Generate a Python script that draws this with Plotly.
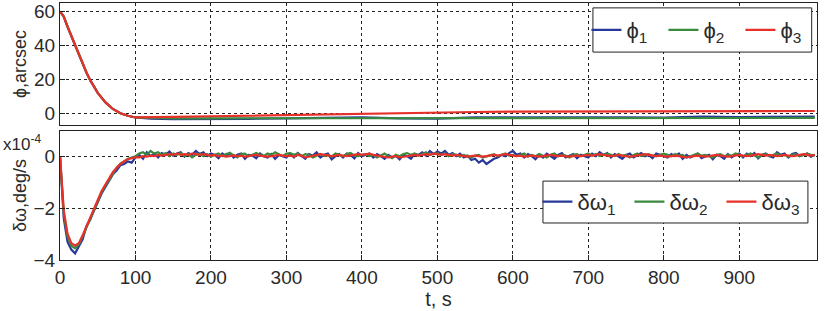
import plotly.graph_objects as go

# ---- data ----
phi_t = [0, 5, 10, 15, 20, 25, 30, 35, 40, 50, 60, 70, 80, 90, 100, 120, 150, 200, 250, 300,
         350, 400, 450, 500, 550, 600, 650, 700, 750, 800, 850, 900, 950, 1000]
phi_early = [60, 57, 51, 45.5, 40, 34.5, 29, 24, 19.5, 12, 6.5, 2.5, 0, -1.5, -2.5]
phi1 = phi_early + [-3.2, -3.5, -3.5, -3.3, -3.0, -2.8, -2.5, -3.0, -3.2, -2.5, -2.4, -2.6, -2.6,
                    -2.4, -2.6, -2.0, -2.3, -2.2, -2.0]
phi2 = phi_early + [-2.8, -3.0, -3.0, -3.0, -3.0, -2.8, -2.6, -2.8, -2.8, -2.8, -2.9, -3.0, -3.0,
                    -2.8, -2.8, -2.9, -3.0, -2.9, -2.8]
phi3 = phi_early + [-2.5, -2.2, -1.8, -1.4, -1.0, -0.7, -0.3, 0.0, 0.4, 0.7, 0.9, 1.0, 1.1,
                    1.2, 1.2, 1.2, 1.3, 1.3, 1.3]

w_t = list(range(0, 1001, 5))
w1 = [0, -2.4, -3.3, -3.6, -3.75, -3.5, -3.2, -2.7, -2.45, -2.1, -1.75, -1.45, -1.2, -0.95, -0.7, -0.55, -0.35, -0.3, -0.2, -0.25, -0.05,
      0.05, -0.1, 0.15, 0.0, 0.1, -0.05, 0.12, 0.05, 0.18, 0.02, 0.1, 0.15, -0.02, 0.12, 0.05, 0.2, 0.08, 0.15, 0.0, 0.1,
      0.05, -0.08, 0.1, 0.0, 0.12, -0.05, 0.05, 0.1, -0.1, 0.05, 0.02, -0.08, 0.1, 0.0, -0.05, 0.08, -0.1, 0.05, 0.0, -0.05,
      0.1, -0.05, 0.12, 0.0, -0.1, 0.08, 0.02, 0.15, -0.05, 0.05, 0.1, -0.12, 0.0, 0.08, -0.05, 0.1, 0.05, -0.08, 0.12, 0.0,
      0.05, 0.1, -0.05, 0.08, 0.0, -0.1, 0.05, -0.05, 0.02, -0.12, 0.05, 0.0, -0.1, 0.08, 0.05, 0.15, 0.02, 0.2, 0.08, 0.18,
      0.1, 0.2, 0.05, 0.12, 0.0, 0.1, -0.05, 0.02, -0.15, -0.1, -0.25, -0.15, -0.3, -0.2, -0.1, -0.05, 0.05, 0.0, 0.12, 0.2,
      0.05, 0.1, -0.05, 0.08, 0.0, -0.12, 0.05, -0.05, 0.1, 0.0, -0.1, 0.05, 0.12, -0.05, 0.02, 0.08, -0.08, 0.05, 0.0, -0.05,
      0.1, 0.0, 0.15, 0.05, 0.12, -0.05, 0.08, 0.0, -0.1, 0.05, 0.1, -0.05, 0.02, 0.12, 0.0, 0.05, -0.08, 0.1, 0.05, 0.0,
      -0.05, 0.08, 0.0, 0.1, -0.1, 0.05, -0.05, 0.02, 0.1, -0.08, 0.0, 0.05, -0.12, 0.05, 0.0, -0.1, 0.08, -0.05, 0.05, 0.1,
      -0.05, 0.1, 0.0, 0.12, -0.08, 0.05, 0.1, 0.0, -0.05, 0.15, 0.05, 0.1, -0.05, 0.08, 0.12, 0.0, 0.05, 0.1, -0.02, 0.05]
w2 = [0, -2.2, -3.1, -3.45, -3.55, -3.4, -3.1, -2.75, -2.4, -2.05, -1.7, -1.4, -1.15, -0.9, -0.65, -0.45, -0.3, -0.2, -0.1, -0.05, 0.0,
      0.1, 0.15, 0.05, 0.2, 0.1, 0.15, 0.05, 0.12, 0.0, 0.1, 0.05, 0.12, 0.0, 0.08, -0.05, 0.05, 0.1, 0.0, 0.08, -0.02,
      0.05, 0.1, 0.0, 0.08, 0.12, 0.02, -0.05, 0.08, 0.1, 0.0, 0.05, 0.12, 0.05, 0.0, 0.1, 0.05, 0.15, 0.08, 0.0, 0.1,
      0.12, 0.05, 0.1, 0.0, 0.08, 0.05, -0.05, 0.02, 0.08, 0.0, 0.05, -0.02, 0.1, 0.05, 0.0, 0.08, 0.12, 0.02, 0.0, 0.05,
      0.08, 0.0, 0.05, -0.05, 0.02, 0.1, 0.0, -0.08, 0.05, 0.0, 0.08, 0.12, 0.05, 0.1, 0.02, 0.08, 0.15, 0.05, 0.1, 0.12,
      0.05, 0.1, 0.0, 0.08, 0.05, -0.02, 0.05, 0.0, -0.05, 0.02, 0.05, -0.05, 0.0, 0.05, 0.08, 0.0, 0.05, 0.1, 0.02, 0.05,
      0.0, 0.05, 0.1, -0.02, 0.05, 0.0, 0.08, 0.02, -0.05, 0.05, 0.1, 0.0, 0.05, 0.02, -0.05, 0.05, 0.08, 0.0, 0.05, 0.1,
      0.02, 0.08, 0.0, 0.05, 0.1, 0.05, 0.0, 0.08, 0.02, 0.05, -0.05, 0.05, 0.1, 0.0, 0.05, 0.08, 0.02, 0.0, 0.05, 0.1,
      0.05, 0.0, 0.08, 0.02, 0.05, -0.05, 0.0, 0.05, 0.1, 0.02, 0.05, 0.0, -0.05, 0.05, 0.08, 0.0, 0.05, 0.02, 0.1, 0.05,
      0.0, 0.05, 0.1, 0.02, -0.05, 0.05, 0.08, 0.0, 0.05, 0.1, 0.02, 0.05, -0.02, 0.05, 0.08, 0.0, 0.05, 0.1, 0.05, 0.02]
w3 = [0, -2.1, -3.0, -3.35, -3.45, -3.35, -3.05, -2.7, -2.35, -2.0, -1.65, -1.35, -1.1, -0.85, -0.62, -0.45, -0.3, -0.2, -0.12, -0.08, -0.05,
      -0.05, 0.0, -0.02, 0.02, 0.0, 0.05, 0.02, 0.05, 0.08, 0.05, 0.1, 0.05, 0.08, 0.05, 0.1, 0.08, 0.05, 0.08, 0.05, 0.02,
      0.05, 0.0, 0.02, -0.02, 0.0, 0.03, 0.0, 0.02, -0.02, 0.0, 0.02, 0.05, 0.02, 0.0, -0.02, 0.0, 0.02, 0.05, 0.02, 0.0,
      0.02, -0.02, 0.05, 0.02, -0.05, -0.02, 0.0, 0.05, 0.08, 0.05, 0.02, 0.0, 0.02, 0.05, 0.02, 0.0, 0.03, 0.05, 0.08, 0.05,
      0.08, 0.1, 0.05, 0.02, 0.0, -0.02, -0.05, -0.02, 0.0, -0.05, -0.02, 0.0, 0.02, 0.05, 0.02, 0.05, 0.08, 0.05, 0.1, 0.08,
      0.05, 0.08, 0.05, 0.02, 0.05, 0.02, 0.0, -0.02, 0.0, 0.02, 0.0, -0.02, 0.0, 0.02, 0.05, 0.02, 0.05, 0.08, 0.05, 0.02,
      0.0, 0.02, -0.02, 0.0, 0.02, 0.0, -0.02, 0.0, 0.02, 0.05, 0.02, 0.0, 0.02, 0.0, -0.02, 0.0, 0.02, 0.0, 0.02, 0.05,
      0.02, 0.05, 0.08, 0.05, 0.02, 0.0, 0.02, 0.05, 0.02, 0.0, -0.02, 0.0, 0.02, 0.05, 0.08, 0.05, 0.02, 0.0, 0.02, 0.0,
      -0.02, 0.0, 0.02, 0.0, -0.02, -0.05, -0.02, 0.0, 0.02, 0.0, -0.02, 0.0, 0.02, 0.05, 0.02, 0.0, -0.02, 0.0, 0.02, 0.05,
      0.02, 0.0, 0.02, 0.05, 0.08, 0.05, 0.02, 0.05, 0.02, 0.0, 0.02, 0.05, 0.02, 0.0, 0.02, 0.05, 0.08, 0.05, 0.02, 0.05]

x_ticks = [0, 100, 200, 300, 400, 500, 600, 700, 800, 900]
phi_ticks = [0, 20, 40, 60]
w_ticks = [-4, -2, 0]

BLUE = "#28389a"
GREEN = "#3a8a3e"
RED = "#e8302a"
FONT = "Liberation Sans, Arial, sans-serif"
TXT = "#2a2a2a"

fig = go.Figure()
for y, name, c in [(phi1, "ϕ<sub>1</sub>", BLUE), (phi2, "ϕ<sub>2</sub>", GREEN), (phi3, "ϕ<sub>3</sub>", RED)]:
    fig.add_trace(go.Scatter(x=phi_t, y=y, name=name, mode="lines", line=dict(color=c, width=2.2),
                             xaxis="x", yaxis="y", legend="legend"))
for y, name, c in [(w1, "δω<sub>1</sub>", BLUE), (w2, "δω<sub>2</sub>", GREEN), (w3, "δω<sub>3</sub>", RED)]:
    fig.add_trace(go.Scatter(x=w_t, y=y, name=name, mode="lines", line=dict(color=c, width=2.2),
                             xaxis="x2", yaxis="y2", legend="legend2"))

axis_common = dict(showline=True, linecolor="#222", linewidth=1, mirror=True, ticks="inside",
                   ticklen=5, tickcolor="#222", showgrid=True, gridcolor="#222", griddash="dot",
                   gridwidth=1, zeroline=False, automargin=False,
                   tickfont=dict(family=FONT, size=19, color=TXT))

legend_common = dict(orientation="h", xanchor="center", yanchor="middle",
                     borderwidth=0, bgcolor="rgba(0,0,0,0)",
                     font=dict(family=FONT, size=22, color=TXT), itemwidth=30)

fig.update_layout(
    width=824, height=311,
    margin=dict(l=60, r=7, t=3, b=51),
    paper_bgcolor="white", plot_bgcolor="white",
    font=dict(family=FONT, color=TXT),
    xaxis=dict(domain=[0, 1], range=[0, 1003], tickvals=x_ticks, showticklabels=False,
               anchor="y", **axis_common),
    yaxis=dict(domain=[0.525, 1], range=[-7, 65], tickvals=phi_ticks, anchor="x",
               title=dict(text="ϕ,arcsec", font=dict(family=FONT, size=18, color=TXT), standoff=2),
               **axis_common),
    xaxis2=dict(domain=[0, 1], range=[0, 1003], tickvals=x_ticks, anchor="y2",
                title=dict(text="t, s", font=dict(family=FONT, size=20, color=TXT), standoff=2),
                **axis_common),
    yaxis2=dict(domain=[0, 0.502], range=[-4, 0.97], tickvals=w_ticks, anchor="x2",
                title=dict(text="δω,deg/s", font=dict(family=FONT, size=18, color=TXT), standoff=2),
                **axis_common),
    legend=dict(x=0.848, y=0.895, entrywidth=32, **legend_common),
    legend2=dict(x=0.813, y=0.226, entrywidth=47, **legend_common),
    showlegend=True,
    shapes=[
        dict(type="rect", xref="paper", yref="paper", x0=0.704, x1=0.993, y0=0.809, y1=0.981,
             line=dict(color="#222", width=1), fillcolor="white", layer="above"),
        dict(type="rect", xref="paper", yref="paper", x0=0.638, x1=0.988, y0=0.144, y1=0.307,
             line=dict(color="#222", width=1), fillcolor="white", layer="above"),
    ],
    annotations=[dict(text="x10<sup>-4</sup>", x=-0.078, y=0.505, xref="paper", yref="paper",
                      xanchor="left", yanchor="top", showarrow=False,
                      font=dict(family=FONT, size=17, color=TXT))],
)

fig.write_html("out.html", config={"displayModeBar": False},
               post_script="document.body.style.margin='0px';")
